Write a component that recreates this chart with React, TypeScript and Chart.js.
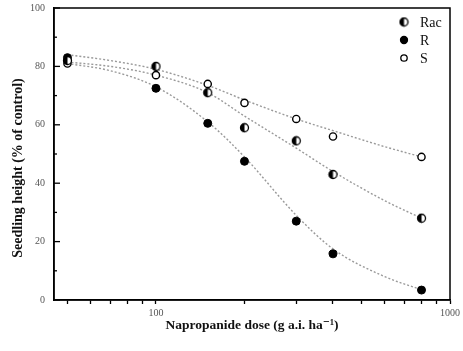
import React, { useEffect, useRef } from 'react';
import { Chart, registerables } from 'chart.js';
Chart.register(...registerables);

// Observed data
const doses = [50, 100, 150, 200, 300, 400, 800];
const racValues = [82, 80, 71, 59, 54.5, 43, 28];
const rValues = [83, 72.5, 60.5, 47.5, 27, 15.8, 3.4];
const sValues = [81, 77, 74, 67.5, 62, 56, 49];

// Fitted dose-response curves
const fitDoses = [50, 70, 100, 150, 200, 300, 400, 600, 800];
const racFit = [81.5, 80, 77, 71, 63, 52, 44, 34, 28];
const rFit = [81, 78.5, 73, 61, 49, 29, 17.5, 8, 3.5];
const sFit = [84, 82, 79, 73.5, 68.5, 62, 58, 52.5, 49];

const seriesNames = ['Rac', 'R', 'S'];
const xTickValues = [50, 60, 70, 80, 90, 100, 200, 300, 400, 500, 600, 700, 800, 900, 1000];
const xLabelled = [100, 1000];
const yMajor = [0, 20, 40, 60, 80, 100];
const yMinor = [10, 30, 50, 70, 90];
const yTitle = 'Seedling height (% of control)';
const xTitle = 'Napropanide dose (g a.i. ha\u207B\u00B9)';

const SERIF = "'Liberation Serif', 'DejaVu Serif', serif";

function makeHalfCircle(r: number) {
  const size = Math.ceil(r * 2 + 3);
  const c = document.createElement('canvas');
  c.width = size;
  c.height = size;
  const ctx = c.getContext('2d')!;
  const m = size / 2;
  ctx.beginPath();
  ctx.arc(m, m, r, 0, Math.PI * 2);
  ctx.fillStyle = '#fff';
  ctx.fill();
  ctx.beginPath();
  ctx.moveTo(m, m);
  ctx.arc(m, m, r, Math.PI / 2, (3 * Math.PI) / 2);
  ctx.closePath();
  ctx.fillStyle = '#000';
  ctx.fill();
  ctx.beginPath();
  ctx.arc(m, m, r, 0, Math.PI * 2);
  ctx.lineWidth = 1.3;
  ctx.strokeStyle = '#000';
  ctx.stroke();
  return c;
}

const pts = (xs: number[], ys: number[]) => xs.map((x, i) => ({ x, y: ys[i] }));

export default function App() {
  const ref = useRef<HTMLCanvasElement>(null);

  useEffect(() => {
    if (!ref.current) return;
    const half = makeHalfCircle(4);

    const fitStyle = {
      showLine: true,
      pointRadius: 0,
      borderColor: '#9a9a9a',
      borderWidth: 1.4,
      borderDash: [2, 2],
      cubicInterpolationMode: 'monotone' as const,
      order: 2,
    };

    const boxPlugin = {
      id: 'box',
      afterDraw(chart: any) {
        const { ctx, chartArea } = chart;
        const ys = chart.scales.y;
        ctx.save();
        ctx.strokeStyle = '#000';
        ctx.lineWidth = 1.5;
        ctx.strokeRect(chartArea.left, chartArea.top, chartArea.right - chartArea.left, chartArea.bottom - chartArea.top);
        // inward y ticks
        ctx.lineWidth = 1.3;
        yMajor.forEach((v) => {
          const py = ys.getPixelForValue(v);
          ctx.beginPath();
          ctx.moveTo(chartArea.left, py);
          ctx.lineTo(chartArea.left + 6, py);
          ctx.stroke();
        });
        yMinor.forEach((v) => {
          const py = ys.getPixelForValue(v);
          ctx.beginPath();
          ctx.moveTo(chartArea.left, py);
          ctx.lineTo(chartArea.left + 3, py);
          ctx.stroke();
        });
        // y title
        ctx.translate(18, 168);
        ctx.rotate(-Math.PI / 2);
        ctx.fillStyle = '#111';
        ctx.font = `bold 14px ${SERIF}`;
        ctx.textAlign = 'center';
        ctx.textBaseline = 'middle';
        ctx.fillText(yTitle, 0, 0);
        ctx.restore();
      },
    };

    const legendPlugin = {
      id: 'innerLegend',
      afterDraw(chart: any) {
        const { ctx } = chart;
        ctx.save();
        const x0 = 404;
        const ys = [22, 40, 58];
        seriesNames.forEach((name, i) => {
          const y = ys[i];
          if (i === 0) {
            ctx.drawImage(half, x0 - half.width / 2, y - half.height / 2);
          } else {
            ctx.beginPath();
            ctx.arc(x0, y, i === 1 ? 3.5 : 3.2, 0, Math.PI * 2);
            ctx.fillStyle = i === 1 ? '#000' : '#fff';
            ctx.fill();
            ctx.lineWidth = 1.3;
            ctx.strokeStyle = '#000';
            ctx.stroke();
          }
          ctx.fillStyle = '#111';
          ctx.font = `14px ${SERIF}`;
          ctx.textBaseline = 'middle';
          ctx.textAlign = 'left';
          ctx.fillText(name, x0 + 16, y + 1);
        });
        ctx.restore();
      },
    };

    const chart = new Chart(ref.current, {
      type: 'scatter',
      data: {
        datasets: [
          { label: 'S fit', data: pts(fitDoses, sFit), ...fitStyle },
          { label: 'Rac fit', data: pts(fitDoses, racFit), ...fitStyle },
          { label: 'R fit', data: pts(fitDoses, rFit), ...fitStyle },
          {
            label: 'Rac',
            data: pts(doses, racValues),
            pointStyle: half as any,
            pointRadius: 4,
            order: 1,
          },
          {
            label: 'R',
            data: pts(doses, rValues),
            pointRadius: 4,
            pointBackgroundColor: '#000',
            pointBorderColor: '#000',
            order: 1,
          },
          {
            label: 'S',
            data: pts(doses, sValues),
            pointRadius: 3.6,
            pointBackgroundColor: '#fff',
            pointBorderColor: '#000',
            pointBorderWidth: 1.4,
            order: 1,
          },
        ],
      },
      options: {
        animation: false,
        responsive: true,
        maintainAspectRatio: false,
        layout: { padding: { top: 8, right: 13, left: 0, bottom: 0 } },
        plugins: {
          legend: { display: false },
          tooltip: { enabled: false },
        },
        scales: {
          x: {
            type: 'logarithmic',
            min: 45,
            max: 1000,
            afterFit(scale: any) {
              scale.height = 51;
              scale.paddingLeft = 0;
              scale.paddingRight = 0;
            },
            afterBuildTicks(scale: any) {
              scale.ticks = xTickValues.map((v) => ({ value: v, major: xLabelled.includes(v) }));
            },
            grid: {
              drawOnChartArea: false,
              drawTicks: true,
              tickLength: 4,
              tickColor: '#000',
              tickWidth: 1.3,
            },
            border: { color: '#000', width: 1.5 },
            ticks: {
              autoSkip: false,
              maxRotation: 0,
              padding: 3,
              color: '#555',
              font: { family: SERIF, size: 10 },
              callback: (v: any) => (xLabelled.includes(Number(v)) ? String(v) : ''),
            },
            title: {
              display: true,
              text: xTitle,
              color: '#111',
              font: { family: SERIF, size: 13.5, weight: 'bold' },
              padding: { top: 0, bottom: 17 },
            },
          },
          y: {
            min: 0,
            max: 100,
            afterFit(scale: any) {
              scale.width = 54;
              scale.paddingTop = 0;
              scale.paddingBottom = 0;
            },
            grid: {
              drawOnChartArea: false,
              drawTicks: false,
            },
            border: { color: '#000', width: 1.5 },
            ticks: {
              stepSize: 20,
              padding: 9,
              color: '#555',
              font: { family: SERIF, size: 10 },
            },
            title: { display: false },
          },
        },
      },
      plugins: [boxPlugin, legendPlugin],
    });
    return () => chart.destroy();
  }, []);

  return (
    <div style={{ position: 'fixed', left: 0, top: 0, width: 463, height: 351, background: '#fff' }}>
      <canvas ref={ref} />
    </div>
  );
}
